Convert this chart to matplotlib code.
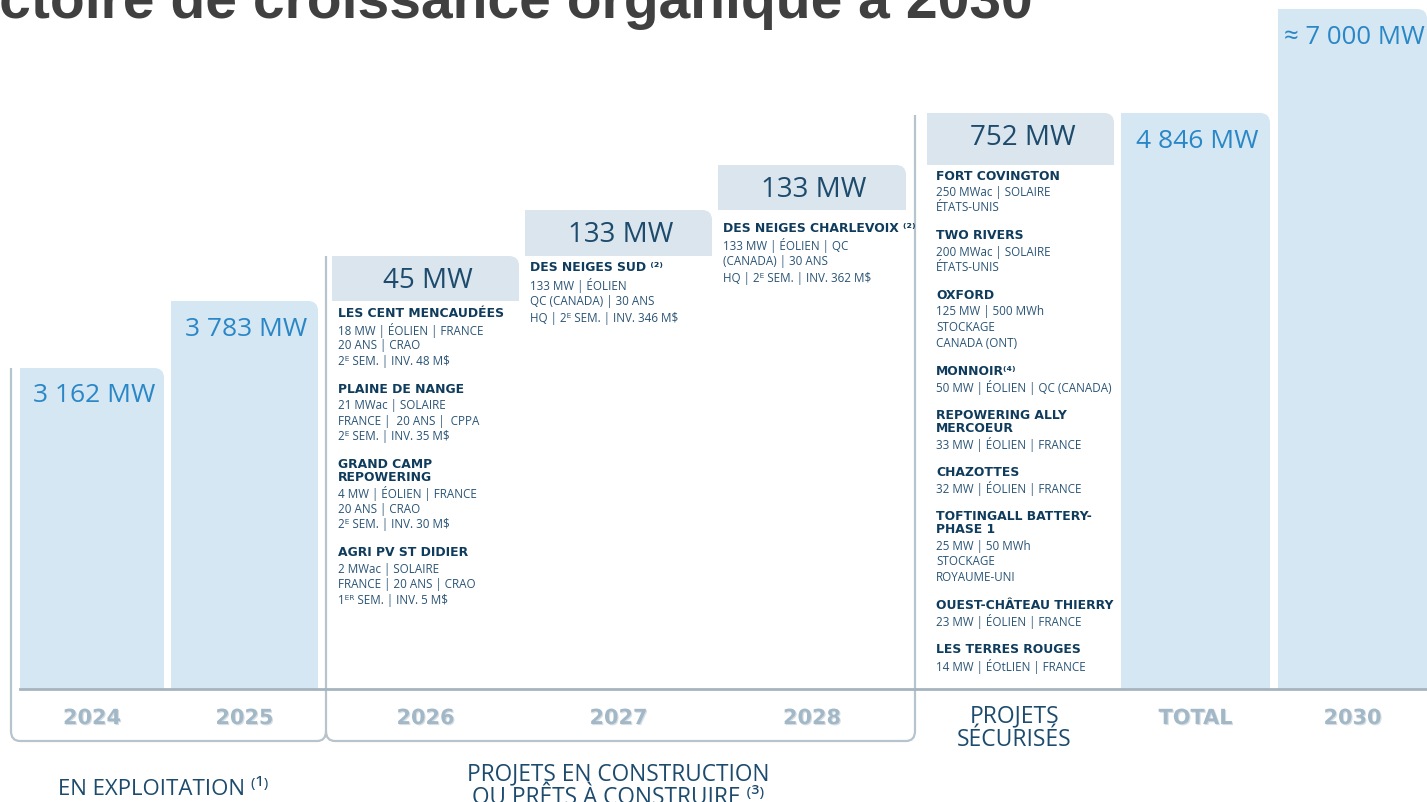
import numpy as np
import matplotlib
matplotlib.use("Agg")
import matplotlib.pyplot as plt
from matplotlib import transforms
from matplotlib.path import Path
from matplotlib.patches import PathPatch
import matplotlib.patheffects as pe

W, H = 1427, 803

# ---- data ----
categories = ["2024", "2025", "2026", "2027", "2028", "PROJETS\nSÉCURISÉS", "TOTAL", "2030"]
mw = [3162, 3783, 45, 133, 133, 752, 4846, 7000]
kind = ["bar", "bar", "step", "step", "step", "step", "bar", "bar"]
value_labels = ["3 162 MW", "3 783 MW", "45 MW", "133 MW", "133 MW", "752 MW", "4 846 MW", "≈ 7 000 MW"]

# the original chart is drawn on an illustrative (non linear) vertical scale
scale_mw = [0, 3162, 3783, 3828, 3961, 4094, 4846, 7000]
scale_h = [0, 321, 388, 433, 479, 524, 576, 680]

projects_2026 = [
    (["LES CENT MENCAUDÉES"], ["18 MW | ÉOLIEN | FRANCE", "20 ANS | CRAO", "2ᴱ SEM. | INV. 48 M$"]),
    (["PLAINE DE NANGE"], ["21 MWac | SOLAIRE", "FRANCE |  20 ANS |  CPPA", "2ᴱ SEM. | INV. 35 M$"]),
    (["GRAND CAMP", "REPOWERING"], ["4 MW | ÉOLIEN | FRANCE", "20 ANS | CRAO", "2ᴱ SEM. | INV. 30 M$"]),
    (["AGRI PV ST DIDIER"], ["2 MWac | SOLAIRE", "FRANCE | 20 ANS | CRAO", "1ᴱᴿ SEM. | INV. 5 M$"]),
]
projects_2027 = [
    (["DES NEIGES SUD ⁽²⁾"], ["133 MW | ÉOLIEN", "QC (CANADA) | 30 ANS", "HQ | 2ᴱ SEM. | INV. 346 M$"]),
]
projects_2028 = [
    (["DES NEIGES CHARLEVOIX ⁽²⁾"], ["133 MW | ÉOLIEN | QC", "(CANADA) | 30 ANS", "HQ | 2ᴱ SEM. | INV. 362 M$"]),
]
projects_secured = [
    (["FORT COVINGTON"], ["250 MWac | SOLAIRE", "ÉTATS-UNIS"]),
    (["TWO RIVERS"], ["200 MWac | SOLAIRE", "ÉTATS-UNIS"]),
    (["OXFORD"], ["125 MW | 500 MWh", "STOCKAGE", "CANADA (ONT)"]),
    (["MONNOIR⁽⁴⁾"], ["50 MW | ÉOLIEN | QC (CANADA)"]),
    (["REPOWERING ALLY", "MERCOEUR"], ["33 MW | ÉOLIEN | FRANCE"]),
    (["CHAZOTTES"], ["32 MW | ÉOLIEN | FRANCE"]),
    (["TOFTINGALL BATTERY-", "PHASE 1"], ["25 MW | 50 MWh", "STOCKAGE", "ROYAUME-UNI"]),
    (["OUEST-CHÂTEAU THIERRY"], ["23 MW | ÉOLIEN | FRANCE"]),
    (["LES TERRES ROUGES"], ["14 MW | ÉOtLIEN | FRANCE"]),
]

# ---- layout (pixels) ----
x_left = [20, 171, 332, 525, 718, 927, 1121, 1278]
x_right = [164, 318, 519, 712, 906, 1114, 1270, 1427]
baseline_px = 690

bar_color = "#d4e7f3"
step_color = "#dbe5ed"
value_blue = "#2a87c7"
navy = "#1d4b6d"
name_navy = "#0f3b5c"
detail_color = "#2a5475"
year_color = "#a3b8c7"
line_color = "#b8c4cd"

fig = plt.figure(figsize=(W / 100, H / 100), dpi=100)
px = transforms.Affine2D().scale(1 / W, -1 / H).translate(0, 1) + fig.transFigure

ax = fig.add_axes([0, (H - baseline_px) / H, 1, 680 / H])
fwd = lambda v: np.interp(v, scale_mw, scale_h)
inv = lambda h: np.interp(h, scale_h, scale_mw)
ax.set_yscale("function", functions=(fwd, inv))
ax.set_ylim(0, 7000)
ax.set_xlim(0, W)
ax.axis("off")
ax.patch.set_visible(False)

# waterfall bottoms
bottoms = []
running = 0
for k, v in zip(kind, mw):
    if k == "bar":
        bottoms.append(0)
        running = v
    else:
        bottoms.append(running)
        running += v

xc = [(a + b) / 2 for a, b in zip(x_left, x_right)]
wd = [b - a for a, b in zip(x_left, x_right)]
colors = [bar_color if k == "bar" else step_color for k in kind]
bars = ax.bar(xc, mw, width=wd, bottom=bottoms, color=colors, zorder=2)

# rebuild each bar with a rounded top-right corner
r = 10
for rect, c in zip(bars, colors):
    (x0, y0), (x1, y1) = ax.transData.transform(
        [(rect.get_x(), rect.get_y()), (rect.get_x() + rect.get_width(), rect.get_y() + rect.get_height())])
    verts = [(x0, y0), (x0, y1), (x1 - r, y1), (x1, y1), (x1, y1 - r), (x1, y0), (x0, y0)]
    codes = [Path.MOVETO, Path.LINETO, Path.LINETO, Path.CURVE3, Path.CURVE3, Path.LINETO, Path.CLOSEPOLY]
    patch = PathPatch(Path(verts, codes), facecolor=c, edgecolor="none",
                      transform=transforms.IdentityTransform(), zorder=1)
    patch.set_clip_on(False)
    ax.add_artist(patch)
    rect.set_visible(False)

# value labels
for i, (k, lab) in enumerate(zip(kind, value_labels)):
    top = bottoms[i] + mw[i]
    if k == "bar":
        ax.annotate(lab, (xc[i] + 2, top), xytext=(0, -27), textcoords="offset pixels",
                    ha="center", va="center", fontsize=19 if len(lab) < 10 else 18.5, color=value_blue,
                    family=["Open Sans", "DejaVu Sans"], zorder=5, annotation_clip=False)
    else:
        ax.annotate(lab, (xc[i] + 2, top), xytext=(0, -24), textcoords="offset pixels",
                    ha="center", va="center", fontsize=20, color=navy,
                    family=["Open Sans", "DejaVu Sans"], zorder=5, annotation_clip=False)

# baseline and brackets
fig.add_artist(plt.Line2D([20, W], [baseline_px, baseline_px], color="#a5b4bf", lw=2, transform=px))
left_br = Path([(11, 369), (11, 732), (11, 742), (20, 742), (317, 742), (326, 742), (326, 732)],
               [Path.MOVETO, Path.LINETO, Path.CURVE3, Path.CURVE3, Path.LINETO, Path.CURVE3, Path.CURVE3])
right_br = Path([(326, 257), (326, 732), (326, 742), (335, 742), (906, 742), (915, 742), (915, 732), (915, 116)],
                [Path.MOVETO, Path.LINETO, Path.CURVE3, Path.CURVE3, Path.LINETO, Path.CURVE3, Path.CURVE3,
                 Path.LINETO])
for p in (left_br, right_br):
    fig.add_artist(PathPatch(p, facecolor="none", edgecolor=line_color, lw=1.6, transform=px))

# project descriptions
def write_projects(projects, x, y, step, gap):
    for names, details in projects:
        for j, n in enumerate(names):
            fig.text(x, y, n, transform=px, fontsize=8.9, fontweight="bold", color=name_navy,
                     family=["DejaVu Sans"], va="center", ha="left")
            y += 13 if j < len(names) - 1 else step + 0.5
        for j, d in enumerate(details):
            fig.text(x, y, d, transform=px, fontsize=8.4, color=detail_color,
                     family=["Open Sans", "DejaVu Sans"], va="center", ha="left")
            y += step if j < len(details) - 1 else gap

write_projects(projects_2026, 338, 314, 15.6, 28)
write_projects(projects_2027, 530, 268, 16.7, 28)
write_projects(projects_2028, 723, 228, 16.7, 28)
write_projects(projects_secured, 936, 176, 15.7, 28)

# category labels
shadow = [pe.SimplePatchShadow(offset=(0.8, -0.8), shadow_rgbFace="#7d93a3", alpha=0.3), pe.Normal()]
for i, cat in enumerate(categories):
    if "\n" in cat:
        fig.text(xc[i] - 6, 728, cat, transform=px, ha="center", va="center", fontsize=16.5,
                 color=navy, family=["Open Sans"], linespacing=0.95)
    else:
        fig.text(xc[i], 719, cat, transform=px, ha="center", va="center", fontsize=15,
                 fontweight="bold", color=year_color, family=["DejaVu Sans"], path_effects=shadow)

fig.text(163, 790, "EN EXPLOITATION ⁽¹⁾", transform=px, ha="center", va="center", fontsize=16,
         color=navy, family=["Open Sans", "DejaVu Sans"])
fig.text(618, 786, "PROJETS EN CONSTRUCTION\nOU PRÊTS À CONSTRUIRE ⁽³⁾", transform=px, ha="center",
         va="center", fontsize=16.3, color=navy, family=["Open Sans", "DejaVu Sans"], linespacing=0.95)

# title (cropped on the left as in the source slide)
fig.text(1033, 18, "Trajectoire de croissance organique à 2030", transform=px, ha="right",
         va="baseline", fontsize=41, fontweight="bold", color="#404040", family=["Liberation Sans"])

fig.savefig("out.png", dpi=100)
